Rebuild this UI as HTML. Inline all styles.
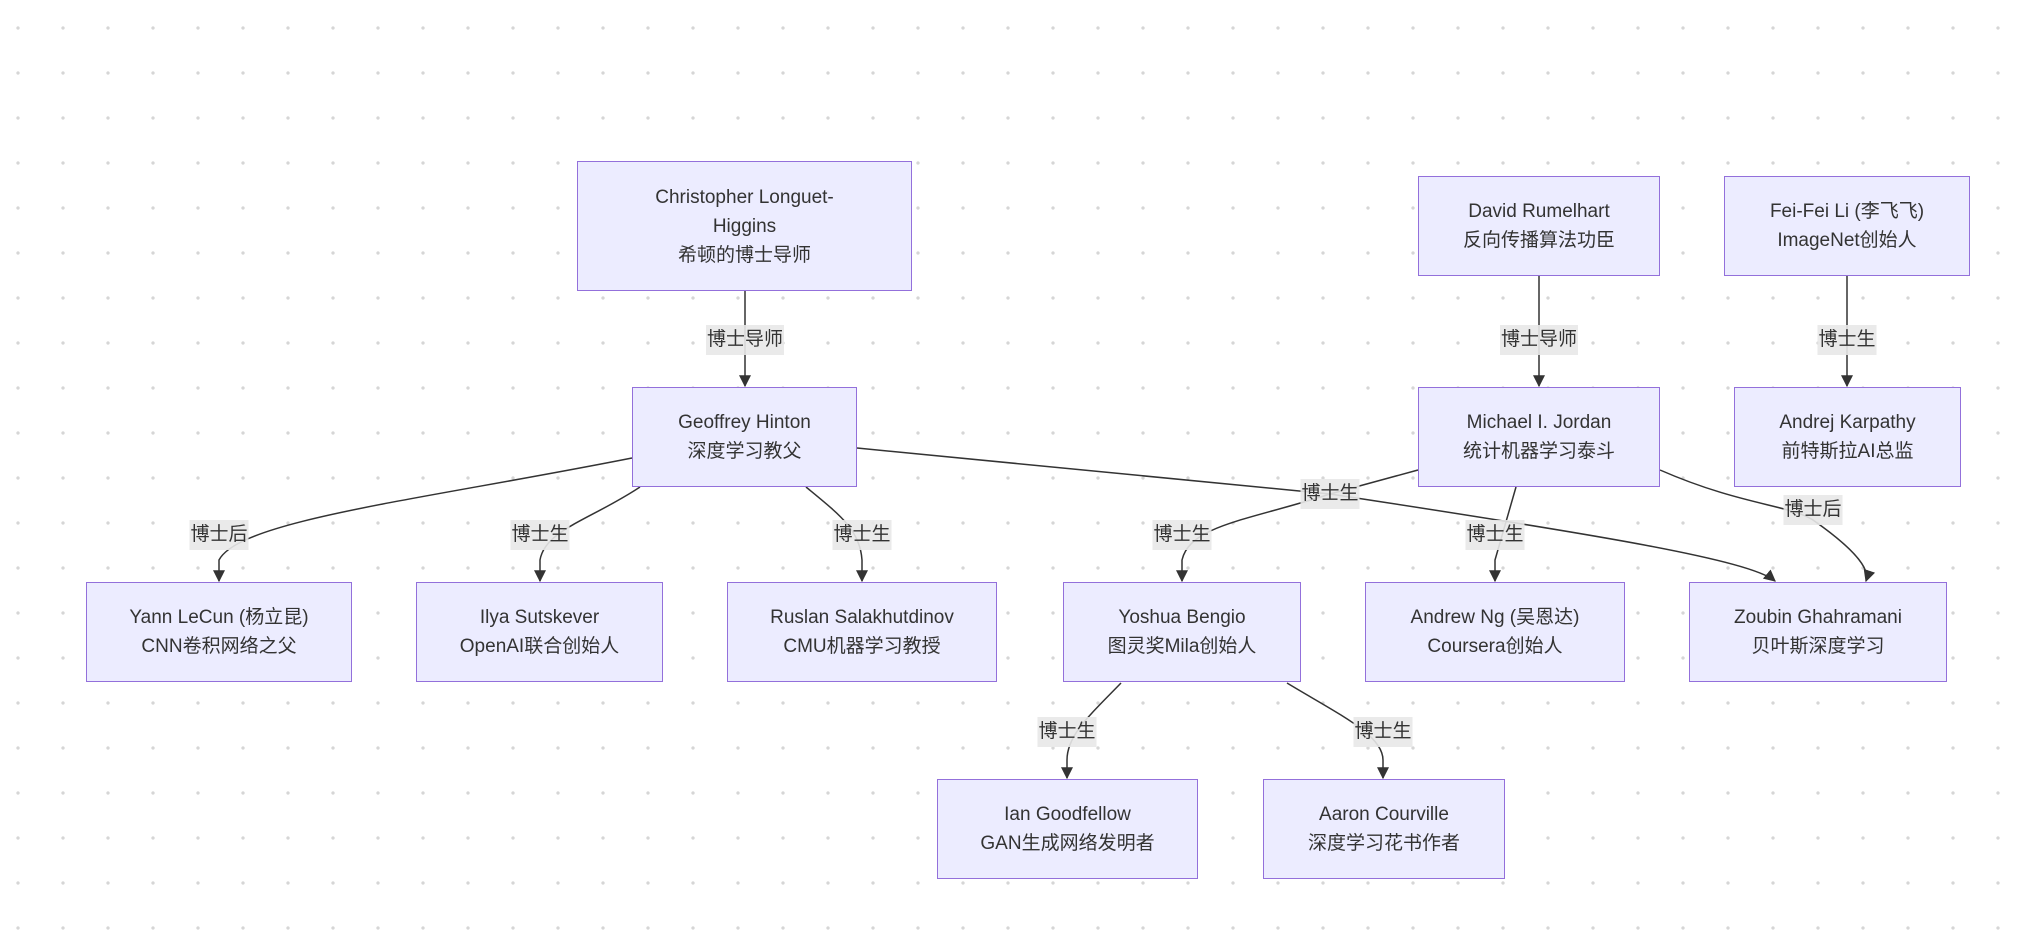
<!DOCTYPE html>
<html><head><meta charset="utf-8"><style>
body{margin:0;width:2034px;height:930px;overflow:hidden;background:#fff;
background-image:radial-gradient(circle,#d6d6d6 1.5px,transparent 1.9px);background-size:45px 45px;background-position:-4.5px 5.5px;
font-family:"Liberation Sans","Noto Sans CJK SC",sans-serif;}
.n{position:absolute;box-sizing:border-box;background:#ECECFF;border:1.5px solid #9370DB;display:flex;align-items:center;justify-content:center;text-align:center;font-size:19px;line-height:29px;color:#333;}
.l{position:absolute;background:rgba(232,232,232,0.9);font-size:19px;line-height:30px;color:#333;padding:0 1px;transform:translate(-50%,-50%);white-space:nowrap;}
svg{position:absolute;left:0;top:0}
</style></head><body>
<svg width="2034" height="930">
<defs><marker id="a" viewBox="0 0 10 10" refX="9" refY="5" markerWidth="12" markerHeight="12" markerUnits="userSpaceOnUse" orient="auto"><path d="M0,0L10,5L0,10z" fill="#333"/></marker></defs>
<g fill="none" stroke="#333" stroke-width="1.5" marker-end="url(#a)">
<path d="M745,291V386"/>
<path d="M1539,276V386"/>
<path d="M1847,276V386"/>
<path d="M632,458C420,500 240,520 219,560V581"/>
<path d="M640,487C590,520 545,530 540,560V581"/>
<path d="M806,487C840,515 860,530 862,560V581"/>
<path d="M857,448L1330,494C1600,535 1750,560 1775,581"/>
<path d="M1660,470C1740,505 1790,505 1813,520C1870,560 1868,575 1866,581"/>
<path d="M1418,470L1330,494C1250,520 1190,525 1182,560V581"/>
<path d="M1516,487L1495,560V581"/>
<path d="M1121,683C1090,715 1067,735 1067,760V778"/>
<path d="M1287,683C1340,715 1383,735 1383,760V778"/>
</g></svg>
<div class="n" style="left:577px;top:161px;width:335px;height:130px">Christopher Longuet-<br>Higgins<br>希顿的博士导师</div>
<div class="n" style="left:632px;top:387px;width:225px;height:100px">Geoffrey Hinton<br>深度学习教父</div>
<div class="n" style="left:1418px;top:176px;width:242px;height:100px">David Rumelhart<br>反向传播算法功臣</div>
<div class="n" style="left:1724px;top:176px;width:246px;height:100px">Fei-Fei Li (李飞飞)<br>ImageNet创始人</div>
<div class="n" style="left:1418px;top:387px;width:242px;height:100px">Michael I. Jordan<br>统计机器学习泰斗</div>
<div class="n" style="left:1734px;top:387px;width:227px;height:100px">Andrej Karpathy<br>前特斯拉AI总监</div>
<div class="n" style="left:86px;top:582px;width:266px;height:100px">Yann LeCun (杨立昆)<br>CNN卷积网络之父</div>
<div class="n" style="left:416px;top:582px;width:247px;height:100px">Ilya Sutskever<br>OpenAI联合创始人</div>
<div class="n" style="left:727px;top:582px;width:270px;height:100px">Ruslan Salakhutdinov<br>CMU机器学习教授</div>
<div class="n" style="left:1063px;top:582px;width:238px;height:100px">Yoshua Bengio<br>图灵奖Mila创始人</div>
<div class="n" style="left:1365px;top:582px;width:260px;height:100px">Andrew Ng (吴恩达)<br>Coursera创始人</div>
<div class="n" style="left:1689px;top:582px;width:258px;height:100px">Zoubin Ghahramani<br>贝叶斯深度学习</div>
<div class="n" style="left:937px;top:779px;width:261px;height:100px">Ian Goodfellow<br>GAN生成网络发明者</div>
<div class="n" style="left:1263px;top:779px;width:242px;height:100px">Aaron Courville<br>深度学习花书作者</div>
<div class="l" style="left:745px;top:340px">博士导师</div>
<div class="l" style="left:1539px;top:340px">博士导师</div>
<div class="l" style="left:1847px;top:340px">博士生</div>
<div class="l" style="left:219px;top:535px">博士后</div>
<div class="l" style="left:540px;top:535px">博士生</div>
<div class="l" style="left:862px;top:535px">博士生</div>
<div class="l" style="left:1330px;top:494px">博士生</div>
<div class="l" style="left:1182px;top:535px">博士生</div>
<div class="l" style="left:1495px;top:535px">博士生</div>
<div class="l" style="left:1813px;top:510px">博士后</div>
<div class="l" style="left:1067px;top:732px">博士生</div>
<div class="l" style="left:1383px;top:732px">博士生</div>
</body></html>
